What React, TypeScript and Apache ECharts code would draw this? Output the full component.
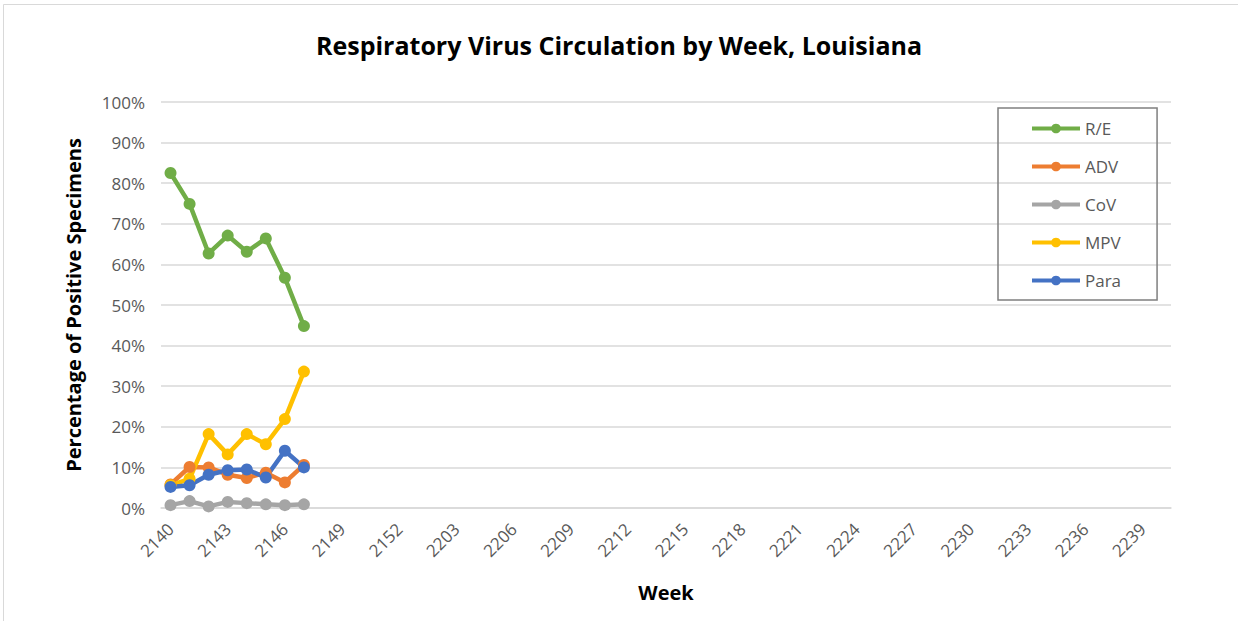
import React, { useEffect, useRef } from "react";
import * as echarts from "echarts";

const weeks: string[] = [
  "2140","2141","2142","2143","2144","2145","2146","2147","2148","2149","2150","2151","2152",
  "2201","2202","2203","2204","2205","2206","2207","2208","2209","2210","2211","2212","2213",
  "2214","2215","2216","2217","2218","2219","2220","2221","2222","2223","2224","2225","2226",
  "2227","2228","2229","2230","2231","2232","2233","2234","2235","2236","2237","2238","2239","2240",
];

const rsvEntero: number[] = [82.5, 74.9, 62.7, 67.1, 63.1, 66.4, 56.7, 44.8];
const adv: number[] = [5.8, 10.1, 10.0, 8.2, 7.4, 8.7, 6.3, 10.6];
const cov: number[] = [0.7, 1.7, 0.4, 1.5, 1.2, 0.9, 0.7, 0.9];
const mpv: number[] = [5.6, 7.2, 18.2, 13.2, 18.2, 15.7, 21.9, 33.6];
const para: number[] = [5.2, 5.6, 8.2, 9.3, 9.5, 7.5, 14.1, 10.0];

const seriesNames = ["R/E", "ADV", "CoV", "MPV", "Para"];
const seriesColors = ["#70AD47", "#ED7D31", "#A5A5A5", "#FFC000", "#4472C4"];
const seriesData = [rsvEntero, adv, cov, mpv, para];

export default function App() {
  const ref = useRef<HTMLDivElement>(null);
  useEffect(() => {
    if (!ref.current) return;
    const chart = echarts.init(ref.current, undefined, { renderer: "svg" });
    const font = "'Open Sans', 'Noto Sans', sans-serif";
    chart.setOption({
      animation: false,
      backgroundColor: "#ffffff",
      textStyle: { fontFamily: font },
      title: {
        text: "Respiratory Virus Circulation by Week, Louisiana",
        left: "center",
        top: 27,
        textStyle: { fontSize: 25, fontWeight: "bold", color: "#000", fontFamily: font },
      },
      graphic: [
        {
          type: "rect",
          shape: { x: 3.5, y: 4.5, width: 1240, height: 620 },
          style: { fill: "none", stroke: "#D9D9D9", lineWidth: 1 },
          silent: true,
        },
      ],
      legend: {
        orient: "vertical",
        left: 998,
        top: 108,
        padding: [12, 36, 11, 32],
        itemGap: 21,
        itemWidth: 48,
        itemHeight: 12,
        borderColor: "#7F7F7F",
        borderWidth: 1.5,
        lineStyle: { width: 4 },
        textStyle: { fontSize: 17, color: "#595959", fontFamily: font },
        data: seriesNames,
      },
      grid: { left: 161, right: 67, top: 102, bottom: 113, containLabel: false },
      xAxis: {
        type: "category",
        data: weeks,
        boundaryGap: true,
        name: "Week",
        nameLocation: "middle",
        nameGap: 74,
        nameTextStyle: { fontSize: 20, fontWeight: "bold", color: "#000", fontFamily: font },
        axisLine: { show: true, lineStyle: { color: "#D9D9D9", width: 1.5 } },
        axisTick: { show: false },
        axisLabel: {
          interval: 2,
          rotate: 45,
          fontSize: 17,
          color: "#595959",
          margin: 18,
          fontFamily: font,
        },
        splitLine: { show: false },
      },
      yAxis: {
        type: "value",
        min: 0,
        max: 100,
        interval: 10,
        name: "Percentage of Positive Specimens",
        nameLocation: "middle",
        nameGap: 78,
        nameTextStyle: { fontSize: 20, fontWeight: "bold", color: "#000", fontFamily: font },
        axisLine: { show: false },
        axisTick: { show: false },
        axisLabel: {
          formatter: "{value}%",
          fontSize: 17,
          color: "#595959",
          margin: 16,
          fontFamily: font,
        },
        splitLine: { lineStyle: { color: "#D9D9D9", width: 1.5 } },
      },
      series: seriesNames.map((name, i) => ({
        name,
        type: "line",
        data: seriesData[i],
        symbol: "circle",
        symbolSize: 12,
        lineStyle: { color: seriesColors[i], width: 4.5 },
        itemStyle: { color: seriesColors[i] },
      })),
    });
    return () => chart.dispose();
  }, []);
  return <div ref={ref} style={{ width: 1238, height: 621, position: "absolute", left: 0, top: 0 }} />;
}
